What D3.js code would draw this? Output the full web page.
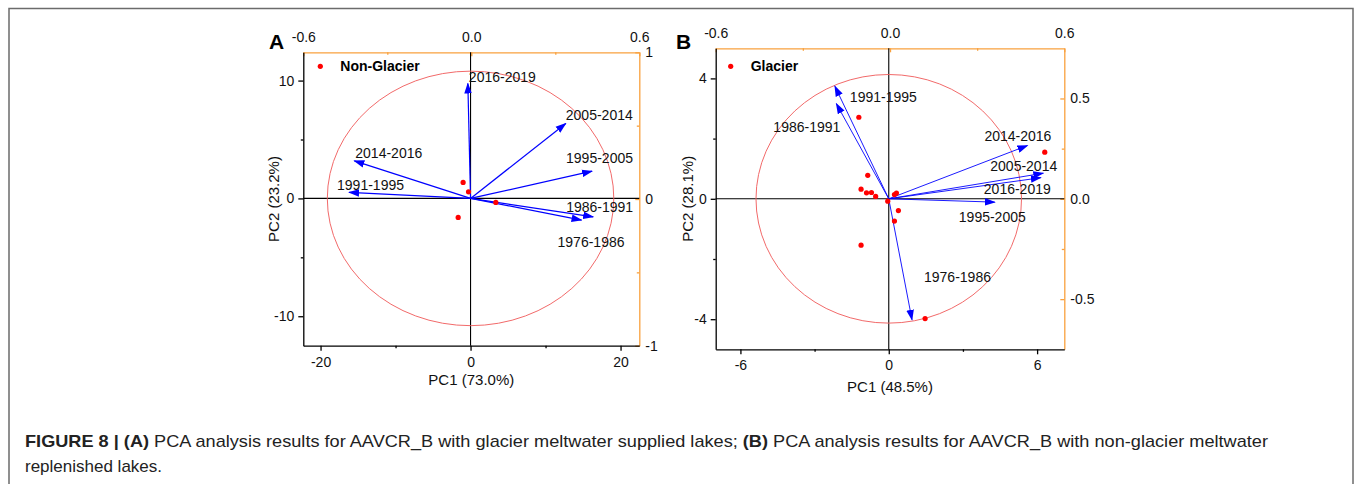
<!DOCTYPE html>
<html>
<head>
<meta charset="utf-8">
<script src="https://cdn.jsdelivr.net/npm/d3@7"></script>
<style>
  body { margin: 0; background: #fff; }
  svg text { font-family: "Liberation Sans", Arial, sans-serif; }
</style>
</head>
<body>
<div id="chart"></div>
<script>
// panel A - non glacier lakes
const periodsA = ["2016-2019", "2005-2014", "1995-2005", "2014-2016", "1991-1995", "1986-1991", "1976-1986"];
const loadA_pc1 = [-0.36, 12.7, 16.2, -15.5, -16.2, 16.35, 14.8];
const loadA_pc2 = [9.75, 6.36, 2.31, 3.19, 0.51, -1.56, -1.84];
const scoreA_pc1 = [-0.99, -0.27, 3.37, -1.65];
const scoreA_pc2 = [1.36, 0.56, -0.34, -1.61];

// panel B - glacier lakes
const periodsB = ["1991-1995", "1986-1991", "2014-2016", "2005-2014", "2016-2019", "1995-2005", "1976-1986"];
const loadB_pc1 = [-2.18, -2.12, 5.61, 6.25, 6.15, 4.29, 0.94];
const loadB_pc2 = [3.74, 3.16, 1.77, 0.85, 0.7, -0.11, -4.02];
const scoreB_pc1 = [-0.85, -1.12, -0.9, -0.7, -0.53, -0.04, 0.23, 0.31, 0.39, 0.23, -1.12, -1.21, 6.31, 1.47];
const scoreB_pc2 = [0.78, 0.32, 0.2, 0.21, 0.08, -0.08, 0.14, 0.19, -0.39, -0.74, -1.54, 2.71, 1.55, -3.98];

// tick values
const xTicksA = [-20, 0, 20], xMinorA = [-10, 10];
const yTicksA = [-10, 0, 10], yMinorA = [-5, 5];
const rightTicksA = [-1, 0, 1], rightMinorA = [-0.5, 0.5];
const xTicksB = [-6, 0, 6], xMinorB = [-3, 3];
const yTicksB = [-4, 0, 4], yMinorB = [-2, 2];
const rightTicksB = [-0.5, 0, 0.5], rightMinorB = [-0.25, 0.25];
const topTicks = [-0.6, 0, 0.6], topMinor = [-0.3, 0.3];

// label placement (px offsets from arrow tip), not data
const labOffA = [[1, -2], [0, -3], [-26, -8], [1, -3], [-12, -2], [-27, -5], [-24, 27]];
const labOffB = [[15, 16], [-63, 28], [-43, -5], [-53, -2], [-57, 16], [-36, 20], [12, -38]];

const W = 1355, H = 484;
const ORANGE = "#f9a13e";
const BLUE = "#0000ff";

// origin style labels use a plain hyphen, not the unicode minus d3 gives
const fmtInt = d => String(d);
const fmt1 = d => d.toFixed(1);

const svg = d3.select("#chart").append("svg")
    .attr("width", W).attr("height", H);

// outer box
svg.append("rect")
    .attr("x", 9).attr("y", 8.5).attr("width", 1344).attr("height", 500)
    .attr("fill", "none").attr("stroke", "#6b6b6b").attr("stroke-width", 1.5);

const defs = svg.append("defs");
defs.append("marker")
    .attr("id", "head")
    .attr("markerUnits", "userSpaceOnUse")
    .attr("viewBox", "0 -4 11 8")
    .attr("refX", 10).attr("refY", 0)
    .attr("markerWidth", 11).attr("markerHeight", 8)
    .attr("orient", "auto")
  .append("path")
    .attr("d", "M0,-3.8L11,0L0,3.8Z")
    .attr("fill", BLUE);

function styleAxis(g, color, fs) {
    g.selectAll("path, line").attr("stroke", color).attr("stroke-width", 1.3);
    g.selectAll("text").attr("fill", "#111").attr("font-size", fs)
        .attr("font-family", "'Liberation Sans', Arial, sans-serif");
}

function drawPanel(cfg) {
    const f = cfg.frame;
    const x = d3.scaleLinear().domain(cfg.xDomain).range([f.left, f.right]);
    const y = d3.scaleLinear().domain(cfg.yDomain).range([f.bottom, f.top]);
    const xTop = d3.scaleLinear().domain([-0.6, 0.6]).range([f.left, f.right]);
    const yRight = d3.scaleLinear().domain(cfg.rightDomain).range([f.bottom, f.top]);

    const g = svg.append("g");

    // orange loading axes (top + right), ticks pointing inward
    const top = g.append("g").attr("transform", `translate(0,${f.top})`);
    top.call(d3.axisTop(xTop).tickValues(topTicks).tickSize(-4).tickSizeOuter(0)
        .tickPadding(10).tickFormat(fmt1));
    top.append("g").call(d3.axisTop(xTop).tickValues(topMinor).tickSize(-2.5).tickFormat(""))
        .select(".domain").remove();
    styleAxis(top, ORANGE, 14);

    const right = g.append("g").attr("transform", `translate(${f.right},0)`);
    right.call(d3.axisRight(yRight).tickValues(cfg.rightTicks).tickSize(-4).tickSizeOuter(0)
        .tickPadding(6).tickFormat(cfg.rightFormat));
    right.append("g").call(d3.axisRight(yRight).tickValues(cfg.rightMinor).tickSize(-2.5).tickFormat(""))
        .select(".domain").remove();
    styleAxis(right, ORANGE, 14);

    // black score axes (bottom + left), ticks outward
    const bottom = g.append("g").attr("transform", `translate(0,${f.bottom})`);
    bottom.call(d3.axisBottom(x).tickValues(cfg.xTicks).tickSize(5).tickSizeOuter(0)
        .tickPadding(6).tickFormat(fmtInt));
    bottom.append("g").call(d3.axisBottom(x).tickValues(cfg.xMinor).tickSize(2.5).tickFormat(""))
        .select(".domain").remove();
    styleAxis(bottom, "#000", 14);

    const left = g.append("g").attr("transform", `translate(${f.left},0)`);
    left.call(d3.axisLeft(y).tickValues(cfg.yTicks).tickSize(5).tickSizeOuter(0)
        .tickPadding(4).tickFormat(fmtInt));
    left.append("g").call(d3.axisLeft(y).tickValues(cfg.yMinor).tickSize(2.5).tickFormat(""))
        .select(".domain").remove();
    styleAxis(left, "#000", 14);

    // zero lines
    g.append("line").attr("x1", x(0)).attr("x2", x(0)).attr("y1", f.top).attr("y2", f.bottom)
        .attr("stroke", "#000").attr("stroke-width", 1.1);
    g.append("line").attr("x1", f.left).attr("x2", f.right).attr("y1", y(0)).attr("y2", y(0))
        .attr("stroke", "#000").attr("stroke-width", 1.1);

    // correlation ellipse
    g.append("ellipse")
        .attr("cx", x(0)).attr("cy", y(0))
        .attr("rx", x(cfg.ring[0]) - x(0)).attr("ry", y(0) - y(cfg.ring[1]))
        .attr("fill", "none").attr("stroke", "#f26a6a").attr("stroke-width", 1);

    // loading arrows
    const arrows = cfg.periods.map((p, i) => ({name: p, pc1: cfg.load1[i], pc2: cfg.load2[i], off: cfg.labOff[i]}));
    g.selectAll(".arrow").data(arrows).enter().append("line")
        .attr("x1", x(0)).attr("y1", y(0))
        .attr("x2", d => x(d.pc1)).attr("y2", d => y(d.pc2))
        .attr("stroke", BLUE).attr("stroke-width", cfg.arrowWidth)
        .attr("marker-end", "url(#head)");
    g.selectAll(".alab").data(arrows).enter().append("text")
        .attr("x", d => x(d.pc1) + d.off[0])
        .attr("y", d => y(d.pc2) + d.off[1])
        .attr("font-size", 14).attr("fill", "#111")
        .text(d => d.name);

    // sample scores
    g.selectAll(".pt").data(cfg.score1.map((v, i) => [v, cfg.score2[i]])).enter().append("circle")
        .attr("cx", d => x(d[0])).attr("cy", d => y(d[1])).attr("r", 2.6)
        .attr("fill", "#ff0000");

    // legend
    g.append("circle").attr("cx", f.left + cfg.legend[0]).attr("cy", f.top + cfg.legend[1])
        .attr("r", 2.6).attr("fill", "#ff0000");
    g.append("text").attr("x", f.left + cfg.legend[0] + 20).attr("y", f.top + cfg.legend[1] + 5)
        .attr("font-size", 14).attr("font-weight", "bold").text(cfg.legendText);

    // axis titles
    g.append("text").attr("x", (f.left + f.right) / 2).attr("y", cfg.xTitleY)
        .attr("text-anchor", "middle").attr("font-size", 15).attr("fill", "#111").text(cfg.xTitle);
    g.append("text")
        .attr("transform", `translate(${cfg.yTitleX},${(f.top + f.bottom) / 2}) rotate(-90)`)
        .attr("text-anchor", "middle").attr("font-size", 15).attr("fill", "#111").text(cfg.yTitle);

    // panel letter
    g.append("text").attr("x", cfg.letterX).attr("y", 48.5)
        .attr("font-size", 21).attr("font-weight", "bold").text(cfg.letter);
}

drawPanel({
    frame: {left: 303.3, top: 52.3, right: 639.3, bottom: 345.7},
    xDomain: [-22.3, 22.5], yDomain: [-12.5, 12.4],
    rightDomain: [-1, 1], rightFormat: fmtInt,
    xTicks: xTicksA, xMinor: xMinorA, yTicks: yTicksA, yMinor: yMinorA,
    rightTicks: rightTicksA, rightMinor: rightMinorA,
    ring: [19.1, 10.8],
    periods: periodsA, load1: loadA_pc1, load2: loadA_pc2, labOff: labOffA,
    score1: scoreA_pc1, score2: scoreA_pc2,
    arrowWidth: 1.2,
    legend: [17, 14], legendText: "Non-Glacier",
    xTitle: "PC1 (73.0%)", xTitleY: 385, yTitle: "PC2 (23.2%)", yTitleX: 279,
    letter: "A", letterX: 269
});

drawPanel({
    frame: {left: 715.7, top: 48.3, right: 1064.3, bottom: 349.3},
    xDomain: [-7.0, 7.1], yDomain: [-5, 5],
    rightDomain: [-0.75, 0.75], rightFormat: fmt1,
    xTicks: xTicksB, xMinor: xMinorB, yTicks: yTicksB, yMinor: yMinorB,
    rightTicks: rightTicksB, rightMinor: rightMinorB,
    ring: [5.37, 4.13],
    periods: periodsB, load1: loadB_pc1, load2: loadB_pc2, labOff: labOffB,
    score1: scoreB_pc1, score2: scoreB_pc2,
    arrowWidth: 0.9,
    legend: [15, 18], legendText: "Glacier",
    xTitle: "PC1 (48.5%)", xTitleY: 392, yTitle: "PC2 (28.1%)", yTitleX: 693,
    letter: "B", letterX: 676
});

// caption
const cap1 = svg.append("text").attr("x", 25).attr("y", 446.5).attr("font-size", 17)
    .attr("fill", "#222").attr("textLength", 1243).attr("lengthAdjust", "spacingAndGlyphs");
cap1.append("tspan").attr("font-weight", "bold").text("FIGURE 8 | (A)");
cap1.append("tspan").text(" PCA analysis results for AAVCR_B with glacier meltwater supplied lakes; ");
cap1.append("tspan").attr("font-weight", "bold").text("(B)");
cap1.append("tspan").text(" PCA analysis results for AAVCR_B with non-glacier meltwater");
svg.append("text").attr("x", 25).attr("y", 471.5).attr("font-size", 17).attr("fill", "#222")
    .text("replenished lakes.");
</script>
</body>
</html>
